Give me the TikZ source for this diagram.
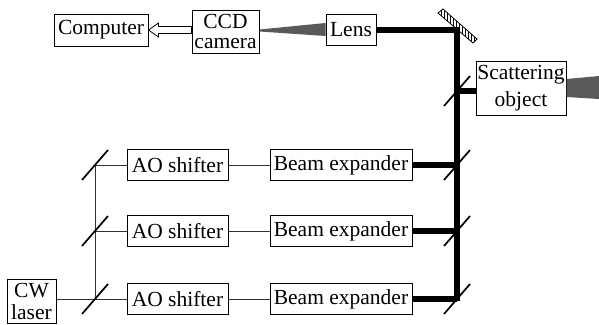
\documentclass[tikz,border=0pt]{standalone}
\usepackage{fontspec}
\setmainfont{Liberation Serif}
\usetikzlibrary{calc,patterns,positioning}

\begin{document}
\begin{tikzpicture}[
	x=1pt, y=-1pt,
	box/.style = {rectangle, draw=black, line width=1pt, fill=white, inner sep=0pt,
		align=center, font=\fontsize{21.5}{21.5}\selectfont},
	aobox/.style = {box, minimum width=101pt, minimum height=31pt},
	bebox/.style = {box, minimum width=142pt, minimum height=31pt},
	thinbeam/.style = {line width=1pt, black!80},
	thickbeam/.style = {line width=5.5pt, black},
	splitter/.style = {line width=1.7pt, black},
	cone/.style = {fill=black!65, draw=none},
	]
	\useasboundingbox (0,0) rectangle (599,324);
	
	\node[box, minimum width=94pt, minimum height=32pt] (computer) at (101,30) {Computer};
	\node[box, minimum width=67pt, minimum height=43pt, font=\fontsize{21.5}{20}\selectfont, align=center] (ccd) at (225.5,31.5) {CCD\\camera};
	\node[box, minimum width=50pt, minimum height=31pt] (lens) at (351,30) {Lens};
	\node[box, minimum width=90pt, minimum height=54pt, font=\fontsize{21.5}{27}\selectfont] (object) at (521,88) {Scattering\\object};
	\node[box, minimum width=49pt, minimum height=44pt, font=\fontsize{21.5}{22}\selectfont] (laser) at (31.5,301) {CW\\laser};
	
	\coordinate (turn) at (457,30);
	\coordinate (beamout) at (599,88);
	\coordinate (split) at (457,91);
	
	% image and object beams
	\fill[cone] (ccd.east) ++(0,-2) -- ($(lens.west)+(0,-7)$) -- ($(lens.west)+(0,6)$) -- ($(ccd.east)+(0,0)$) -- cycle;
	\fill[cone] ($(object.east)+(0,-9)$) -- ($(beamout)+(0,-12)$) -- ($(beamout)+(0,11)$) -- ($(object.east)+(0,9)$) -- cycle;
	
	\foreach \y [count=\j] in {165,231,299} {
		\node[aobox] (ao-\j) at (177.5,\y) {AO shifter};
		\node[bebox] (be-\j) at (341,\y) {Beam expander};
		\coordinate (left-\j) at (95,\y);
		\coordinate (right-\j) at (457,\y);
		\draw[thinbeam] (left-\j) -- (ao-\j.west);
		\draw[thinbeam] (ao-\j.east) -- (be-\j.west);
		\draw[thickbeam] (be-\j.east) -- (right-\j);
	}
	
	\draw[thinbeam] (laser.east |- left-3) -- (left-3);
	\draw[thinbeam] (left-1) -- (left-3);
	
	\draw[thickbeam] (lens.east) -- (turn) -- ($(right-3)+(0,2)$);
	\draw[thickbeam] (split) -- (split -| object.west);
	
	% mirrors
	\foreach \p in {left-1,left-2,left-3,right-1,right-2,right-3,split} {
		\draw[splitter] ($(\p)+(-13,15)$) -- ($(\p)+(13,-15)$);
	}
	\draw[pattern=vertical lines, line width=0.8pt] (438,13) -- (443,9) -- (477,39) -- (473,43) -- cycle;
	
	% hollow arrow to computer
	\draw[line width=0.8pt, fill=white] ($(ccd.west)+(0,-5)$) -- ($(computer.east)+(10,-3.5)$) -- ($(computer.east)+(10,-7)$)
		-- (computer.east) -- ($(computer.east)+(10,7)$) -- ($(computer.east)+(10,3.5)$) -- ($(ccd.west)+(0,2)$) -- cycle;
\end{tikzpicture}
\end{document}
